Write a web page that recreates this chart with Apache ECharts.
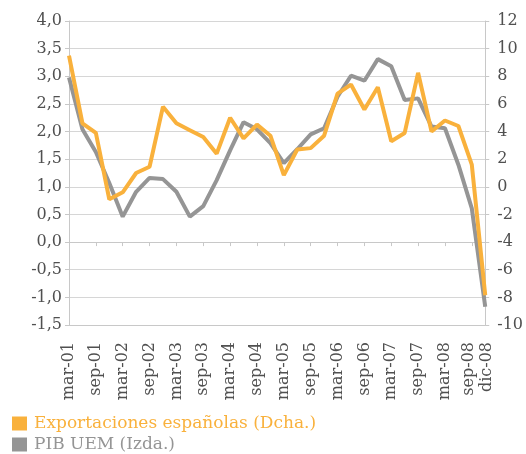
<!DOCTYPE html>
<html>
<head>
<meta charset="utf-8">
<script src="https://cdn.jsdelivr.net/npm/echarts@6/dist/echarts.min.js"></script>
<style>html,body{margin:0;padding:0;background:#fff;}#c{width:526px;height:454px;}</style>
</head>
<body>
<div id="c"></div>
<script>
const categories = [
  'mar-01','jun-01','sep-01','dic-01','mar-02','jun-02','sep-02','dic-02',
  'mar-03','jun-03','sep-03','dic-03','mar-04','jun-04','sep-04','dic-04',
  'mar-05','jun-05','sep-05','dic-05','mar-06','jun-06','sep-06','dic-06',
  'mar-07','jun-07','sep-07','dic-07','mar-08','jun-08','sep-08','dic-08'
];
const exportaciones = [
  9.5, 4.6, 3.9, -0.9, -0.4, 1.0, 1.45, 5.8,
  4.6, 4.1, 3.6, 2.4, 5.0, 3.5, 4.5, 3.7,
  0.85, 2.7, 2.8, 3.7, 6.75, 7.4, 5.6, 7.2,
  3.3, 3.9, 8.25, 4.0, 4.8, 4.4, 1.6, -7.85
];
const pibUEM = [
  2.98, 2.04, 1.63, 1.07, 0.46, 0.91, 1.16, 1.14,
  0.91, 0.46, 0.65, 1.12, 1.66, 2.17, 2.04, 1.79,
  1.43, 1.68, 1.95, 2.06, 2.63, 3.01, 2.92, 3.31,
  3.18, 2.57, 2.60, 2.09, 2.06, 1.40, 0.61, -1.17
];
const leftTicks = {min: -1.5, max: 4.0, interval: 0.5};
const rightTicks = {min: -10, max: 12, interval: 2};

const ORANGE = '#F9B13C';
const GRAY = '#959595';
const LABEL = '#505050';
const FONT = 'DejaVu Serif';

const chart = echarts.init(document.getElementById('c'));
const last = categories.length - 1;
const labelBase = {rotate: 90, margin: 17, fontFamily: FONT, fontSize: 16, color: LABEL,
  rich: {l: {fontFamily: FONT, fontSize: 16, color: LABEL, padding: [0, 0, 5, 0]},
         r: {fontFamily: FONT, fontSize: 16, color: LABEL, padding: [3, 0, 0, 0]}}};
chart.setOption({
  animation: false,
  grid: {left: 69, right: 39, top: 21, bottom: 129},
  legend: [
    {data: [{name: 'Exportaciones españolas (Dcha.)'}], left: 12, top: 415, icon: 'rect', padding: 0,
     itemWidth: 15, itemHeight: 14,
     textStyle: {fontFamily: FONT, fontSize: 17, color: ORANGE, padding: [0,0,0,2]}},
    {data: [{name: 'PIB UEM (Izda.)'}], left: 12, top: 436, icon: 'rect', padding: 0,
     itemWidth: 15, itemHeight: 14,
     textStyle: {fontFamily: FONT, fontSize: 17, color: GRAY, padding: [0,0,0,2]}}
  ],
  xAxis: [
    {type: 'category', data: categories, boundaryGap: false,
     axisLine: {show: true, onZero: false, lineStyle: {color: '#C8C8C8'}},
     axisTick: {show: false},
     axisLabel: Object.assign({interval: (i) => i % 2 === 0, showMaxLabel: true, showMinLabel: true,
       formatter: (v, i) => i === last - 1 ? '{l|' + v + '}' : v}, labelBase)},
    {type: 'category', data: categories, boundaryGap: false, position: 'bottom',
     axisLine: {show: true, onZero: true, onZeroAxisIndex: 0, lineStyle: {color: '#C8C8C8'}},
     axisTick: {show: true, interval: (i) => i % 2 === 0, length: 4, lineStyle: {color: '#C8C8C8'}},
     axisLabel: {show: false}},
    {type: 'category', data: categories, boundaryGap: false, position: 'bottom',
     axisLine: {show: false, onZero: false}, axisTick: {show: false},
     axisLabel: Object.assign({interval: (i) => i === last, showMaxLabel: true,
       formatter: (v) => '{r|' + v + '}'}, labelBase)}
  ],
  yAxis: [
    {type: 'value', position: 'left', min: leftTicks.min, max: leftTicks.max, interval: leftTicks.interval,
     axisLine: {show: true, lineStyle: {color: '#C8C8C8'}},
     axisTick: {show: true, length: 4, lineStyle: {color: '#C8C8C8'}},
     splitLine: {show: true, lineStyle: {color: '#D6D6D6', width: 1}},
     axisLabel: {margin: 7, fontFamily: FONT, fontSize: 16, color: LABEL,
       formatter: (v) => v.toFixed(1).replace('.', ',')}},
    {type: 'value', position: 'right', min: rightTicks.min, max: rightTicks.max, interval: rightTicks.interval,
     axisLine: {show: true, lineStyle: {color: '#C8C8C8'}},
     axisTick: {show: true, length: 4, lineStyle: {color: '#C8C8C8'}},
     splitLine: {show: false},
     axisLabel: {margin: 12, fontFamily: FONT, fontSize: 16, color: LABEL}}
  ],
  series: [
    {name: 'PIB UEM (Izda.)', type: 'line', yAxisIndex: 0, xAxisIndex: 0, data: pibUEM,
     showSymbol: false, symbol: 'none', lineStyle: {color: GRAY, width: 4}, itemStyle: {color: GRAY}, z: 2},
    {name: 'Exportaciones españolas (Dcha.)', type: 'line', yAxisIndex: 1, xAxisIndex: 0, data: exportaciones,
     showSymbol: false, symbol: 'none', lineStyle: {color: ORANGE, width: 4}, itemStyle: {color: ORANGE}, z: 3}
  ]
});
</script>
</body>
</html>
